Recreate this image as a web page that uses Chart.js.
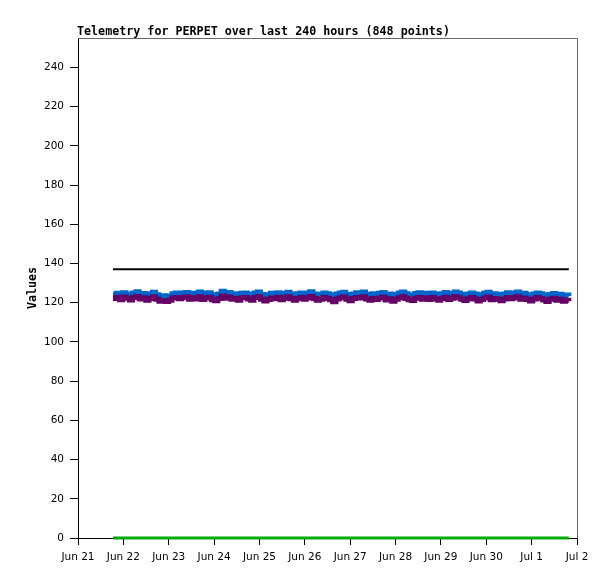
<!DOCTYPE html>
<html>
<head>
<meta charset="utf-8">
<script src="https://cdn.jsdelivr.net/npm/chart.js@4"></script>
<style>
    html, body { margin: 0; padding: 0; background: #fff; }
    #wrap { width: 615px; height: 579px; }
</style>
</head>
<body>
<div id="wrap"><canvas id="chart" width="615" height="579"></canvas></div>
<script>
// Axis labels (days since Jun 21)
const xTicks = [0, 1, 2, 3, 4, 5, 6, 7, 8, 9, 10, 11];
const xLabels = ['Jun 21', 'Jun 22', 'Jun 23', 'Jun 24', 'Jun 25', 'Jun 26', 'Jun 27', 'Jun 28', 'Jun 29', 'Jun 30', 'Jul 1', 'Jul 2'];
const yTicks = [0, 20, 40, 60, 80, 100, 120, 140, 160, 180, 200, 220, 240];

// Window covered by the samples (days since Jun 21)
const startDay = 0.77;
const endDay = 10.82;

const blueValues = [
    124.2,124.8,123.9,125.1,124.4,123.6,124.9,125.6,124.1,124.7,123.8,124.5,125.3,124.0,123.2,123.5,123.1,123.4,124.6,125.0,
    124.3,124.9,125.2,124.1,124.8,124.4,125.5,124.2,124.9,125.1,124.0,123.6,124.5,125.8,124.7,125.2,124.1,124.6,123.9,124.8,
    125.0,124.3,123.7,124.9,125.4,124.2,123.5,124.1,124.8,124.5,125.1,124.0,124.7,125.3,124.4,123.8,124.6,125.0,124.2,124.9,
    125.6,124.5,123.9,124.3,125.0,124.6,124.1,123.6,124.4,124.9,125.3,124.2,123.7,124.5,125.1,124.8,125.5,124.3,123.9,124.6,
    124.1,124.8,125.2,124.0,124.5,123.4,124.2,124.9,125.4,124.6,124.0,123.8,124.7,125.1,124.3,124.8,124.1,125.0,124.4,123.9,
    124.6,125.2,124.1,124.7,125.5,124.9,124.2,123.8,124.5,125.0,124.4,123.6,124.1,124.8,125.3,124.0,124.6,124.2,123.7,124.4,
    125.1,124.5,124.9,125.4,124.3,124.8,124.1,123.6,124.4,125.0,124.6,124.0,123.5,124.2,124.7,123.9,124.3,123.6,123.9,123.4
];
const purpleValues = [
    122.1,122.8,121.5,122.9,122.3,121.4,122.6,123.2,121.9,122.5,121.3,122.2,122.9,121.7,120.8,121.0,120.6,121.2,122.4,122.7,
    122.0,122.6,123.0,121.8,122.5,121.9,123.1,121.6,122.4,122.8,121.5,121.0,122.2,123.4,122.3,122.9,121.8,122.1,121.3,122.5,
    122.7,121.9,121.2,122.6,123.0,121.8,120.9,121.6,122.4,122.0,122.8,121.5,122.3,123.0,122.0,121.2,122.2,122.7,121.7,122.5,
    123.2,122.1,121.3,121.8,122.6,122.2,121.5,120.5,121.9,122.5,122.9,121.7,121.0,122.1,122.7,122.4,123.1,121.9,121.2,122.2,
    121.6,122.4,122.8,121.4,122.0,120.7,121.7,122.5,123.0,122.2,121.5,121.1,122.3,122.7,121.8,122.4,121.6,122.6,121.9,121.3,
    122.2,122.8,121.6,122.3,123.1,122.5,121.7,121.1,122.0,122.6,121.9,120.9,121.6,122.4,122.9,121.5,122.2,121.7,121.0,121.9,
    122.7,122.0,122.5,123.0,121.8,122.4,121.6,120.9,121.9,122.6,122.1,121.4,120.6,121.7,122.3,121.2,121.8,120.8,121.3,120.7
];
const limitValue = 137;
const floorValue = 0;

// sample times spread evenly over the window
const step = (endDay - startDay) / (blueValues.length - 1);
const toPoints = vals => vals.map((v, i) => ({ x: startDay + i * step, y: v }));

const frame = {
    id: 'frame',
    afterDraw(chart) {
        const { ctx, chartArea: a } = chart;
        ctx.save();
        ctx.strokeStyle = '#666';
        ctx.lineWidth = 1;
        ctx.beginPath();
        ctx.moveTo(a.left, a.top + 0.5);
        ctx.lineTo(a.right + 0.5, a.top + 0.5);
        ctx.lineTo(a.right + 0.5, a.bottom);
        ctx.stroke();

        ctx.fillStyle = '#000';
        ctx.font = "bold 11.7px 'DejaVu Sans Mono'";
        ctx.textBaseline = 'alphabetic';
        ctx.textAlign = 'left';
        ctx.fillText('Telemetry for PERPET over last 240 hours (848 points)', 77, 35);

        ctx.translate(36, (a.top + a.bottom) / 2);
        ctx.rotate(-Math.PI / 2);
        ctx.textAlign = 'center';
        ctx.fillText('Values', 0, 0);
        ctx.restore();
    }
};

const ctx = document.getElementById('chart').getContext('2d');
new Chart(ctx, {
    type: 'line',
    data: {
        datasets: [
            { label: 'blue', data: toPoints(blueValues), borderColor: '#0066cc', borderWidth: 5, stepped: true, order: 3 },
            { label: 'purple', data: toPoints(purpleValues), borderColor: '#660066', borderWidth: 5, stepped: true, order: 2 },
            { label: 'limit', data: [{ x: startDay, y: limitValue }, { x: endDay, y: limitValue }], borderColor: '#000', borderWidth: 2, order: 1 },
            { label: 'floor', data: [{ x: startDay, y: floorValue }, { x: endDay, y: floorValue }], borderColor: '#00aa00', borderWidth: 3, clip: false, order: 0 }
        ]
    },
    options: {
        responsive: false,
        animation: false,
        layout: { padding: { top: 38, right: 38, left: 0, bottom: 0 } },
        elements: { point: { radius: 0 }, line: { tension: 0 } },
        scales: {
            x: {
                type: 'linear',
                min: 0,
                max: 11,
                afterBuildTicks: s => { s.ticks = xTicks.map(v => ({ value: v })); },
                afterFit: s => { s.height = 41; },
                border: { color: '#000', width: 1 },
                grid: { drawOnChartArea: false, tickLength: 7, color: '#000' },
                ticks: {
                    color: '#000',
                    padding: 6,
                    maxRotation: 0,
                    autoSkip: false,
                    font: { family: 'DejaVu Sans', size: 10.5 },
                    callback: (v, i) => xLabels[i]
                }
            },
            y: {
                min: 0,
                max: 255,
                afterBuildTicks: s => { s.ticks = yTicks.map(v => ({ value: v })); },
                afterFit: s => { s.width = 78; },
                border: { color: '#000', width: 1 },
                grid: { drawOnChartArea: false, tickLength: 8, color: '#000' },
                ticks: {
                    color: '#000',
                    padding: 6,
                    font: { family: 'DejaVu Sans', size: 10.5 }
                }
            }
        },
        plugins: {
            legend: { display: false },
            tooltip: { enabled: false }
        }
    },
    plugins: [frame]
});
</script>
</body>
</html>
